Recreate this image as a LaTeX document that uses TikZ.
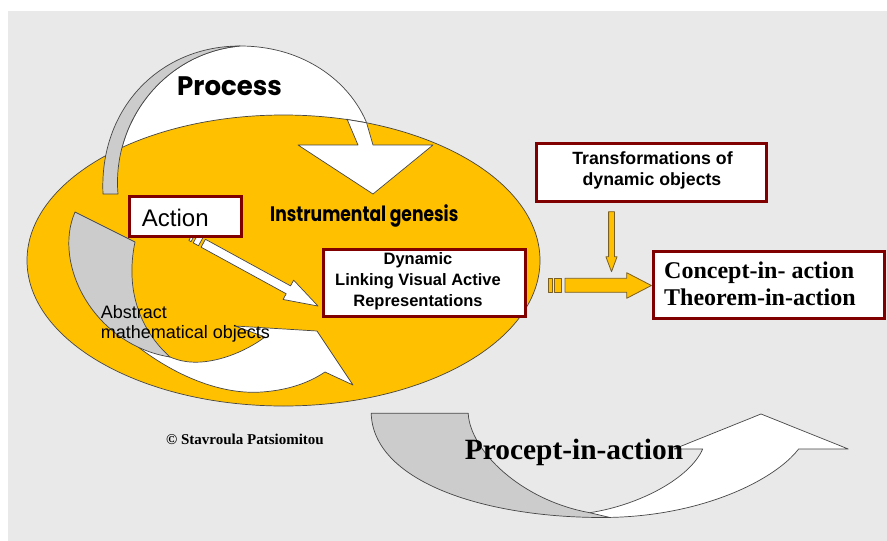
\documentclass[tikz,border=0pt]{standalone}
\usepackage{fontspec}
\setmainfont{Liberation Serif}
\setsansfont{Liberation Sans}
\newfontfamily\gothic{Poppins}
\definecolor{bg}{RGB}{233,233,233}
\definecolor{gold}{RGB}{255,192,0}
\definecolor{goldline}{RGB}{120,95,40}
\definecolor{linegray}{RGB}{70,70,70}
\definecolor{partgray}{RGB}{204,204,204}
\definecolor{maroon}{RGB}{128,0,0}
\begin{document}
\begin{tikzpicture}[x=1pt,y=-1pt,
  shapeline/.style={draw=linegray, line width=0.7pt, line join=round},
  whitepart/.style={shapeline, fill=white},
  graypart/.style={shapeline, fill=partgray},
  goldarrow/.style={draw=goldline, line width=0.8pt, line join=round, fill=gold},
  box/.style={draw=maroon, line width=3pt, fill=white, inner sep=0pt, rectangle},
  lbl/.style={inner sep=0pt, anchor=base west},
  ctr/.style={inner sep=0pt, anchor=base}]
\useasboundingbox (0,0) rectangle (887,541);
\fill[white] (0,0) rectangle (887,541);
\fill[bg] (8,11) rectangle (887,541);

% Process arrow (band behind the ellipse)
\draw[whitepart] (232,47) -- (240,46) .. controls (315,46) and (365,95) .. (373,145)
  -- (433,145) -- (373,194) -- (298,145) -- (358,145) -- (347,119) -- (300,170)
  -- (150,190) -- (118,194) .. controls (112,125) and (160,58) .. (232,47) -- cycle;

% ellipse
\draw[shapeline, fill=gold] (283.5,260.5) ellipse [x radius=256.5pt, y radius=145.5pt];

% Process arrow head over ellipse
\draw[whitepart] (347.2,119.5) -- (366.6,122.8) -- (373,145) -- (433,145) -- (373,194)
  -- (298,145) -- (358,145) -- cycle;
% Process gray strip
\draw[graypart] (103,194) .. controls (99,108) and (160,46) .. (240,46) -- (232,47)
  .. controls (160,58) and (112,125) .. (118,194) -- cycle;

% Abstract arrow
\draw[whitepart] (138.5,347.3) .. controls (175,375) and (220,395) .. (262,392)
  .. controls (290,390) and (310,382) .. (325,372) -- (353,385) -- (317,331) -- (235,326)
  -- (265,337) .. controls (245,352) and (215,364) .. (190,362)
  .. controls (180,361) and (175,359) .. (170,357) -- cycle;
\draw[graypart] (75,212) .. controls (52,265) and (95,345) .. (170,357)
  .. controls (140,330) and (125,290) .. (135,242) -- cycle;

% Action arrow (striped)
\begin{scope}[shift={(191,236.5)}, rotate=-28.7]
  \draw[whitepart] (0,-4.5) rectangle (2.5,4.5);
  \draw[whitepart] (5,-4.5) rectangle (11,4.5);
  \draw[whitepart] (14,-4.5) -- (111,-4.5) -- (111,-11) -- (144.8,0) -- (111,11)
    -- (111,4.5) -- (14,4.5) -- cycle;
\end{scope}

% Procept arrow
\draw[whitepart] (589.7,512.7) .. controls (640,505) and (690,478) .. (702.7,449)
  -- (674,449) -- (761,414) -- (848.3,449) -- (798.6,449)
  .. controls (775,480) and (700,518) .. (600,517.5) -- cycle;
\draw[graypart] (371.2,413.3) -- (468.2,413.3) .. controls (470,450) and (520,500) .. (589.7,512.7)
  -- (610,517.5) -- (600,517.5) .. controls (480,517) and (373,480) .. (371.2,413.3) -- cycle;

% boxes
\node[box, minimum width=112.6pt, minimum height=40.3pt] (action) at (185.5,216.65) {};
\node[box, minimum width=202pt, minimum height=67pt] (dyn) at (424.5,283.3) {};
\node[box, minimum width=229.8pt, minimum height=58pt] (transf) at (651.4,172.2) {};
\node[box, minimum width=231pt, minimum height=67pt] (concept) at (769,285) {};

% gold arrows
\draw[goldarrow] (608.6,211.7) -- (614.4,211.7) -- (614.4,256.7) -- (617.1,256.7)
  -- (611.5,271.7) -- (605.9,256.7) -- (608.6,256.7) -- cycle;
\draw[goldarrow] (548.6,278.3) rectangle (552.7,292.3);
\draw[goldarrow] (554.8,278.3) rectangle (561.6,292.3);
\draw[goldarrow] (565,278.3) -- (626.7,278.3) -- (626.7,272.7) -- (651.4,285.5)
  -- (626.7,298.3) -- (626.7,292.3) -- (565,292.3) -- cycle;

% texts
\node[lbl, font=\gothic\bfseries\fontsize{25.5}{30}\selectfont] (process) at (177,95) {\scalebox{1.02}[1.05]{Process}};
\node[lbl, font=\gothic\bfseries\fontsize{17.5}{22}\selectfont] (instgen) at (270,221.7) {\scalebox{0.98}[1.2]{Instrumental genesis}};
\node[lbl, font=\sffamily\fontsize{24}{28}\selectfont] (actiontxt) at (141.7,226) {Action};
\node[lbl, font=\sffamily\fontsize{18}{20}\selectfont] (abs1) at (100.7,318.3) {Abstract};
\node[lbl, font=\sffamily\fontsize{18}{20}\selectfont] (abs2) at (100.7,338.3) {mathematical objects};
\node[ctr, font=\sffamily\bfseries\fontsize{16.5}{20}\selectfont] (dyn1) at (418,264) {Dynamic};
\node[ctr, font=\sffamily\bfseries\fontsize{16.5}{20}\selectfont] (dyn2) at (418,285.7) {Linking Visual Active};
\node[ctr, font=\sffamily\bfseries\fontsize{16.5}{20}\selectfont] (dyn3) at (418,306.7) {Representations};
\node[ctr, font=\sffamily\bfseries\fontsize{17.7}{21}\selectfont] (tr1) at (652.5,164.3) {Transformations of};
\node[ctr, font=\sffamily\bfseries\fontsize{17.7}{21}\selectfont] (tr2) at (652,185) {dynamic objects};
\node[lbl, font=\rmfamily\bfseries\fontsize{24}{28}\selectfont] (con1) at (664,278.3) {Concept-in- action};
\node[lbl, font=\rmfamily\bfseries\fontsize{24}{28}\selectfont] (con2) at (664,305) {Theorem-in-action};
\node[lbl, font=\rmfamily\bfseries\fontsize{29.4}{34}\selectfont] (procept) at (464.7,459.3) {Procept-in-action};
\node[lbl, font=\rmfamily\bfseries\fontsize{15}{18}\selectfont] (copy) at (166,444) {© Stavroula Patsiomitou};
\end{tikzpicture}
\end{document}
